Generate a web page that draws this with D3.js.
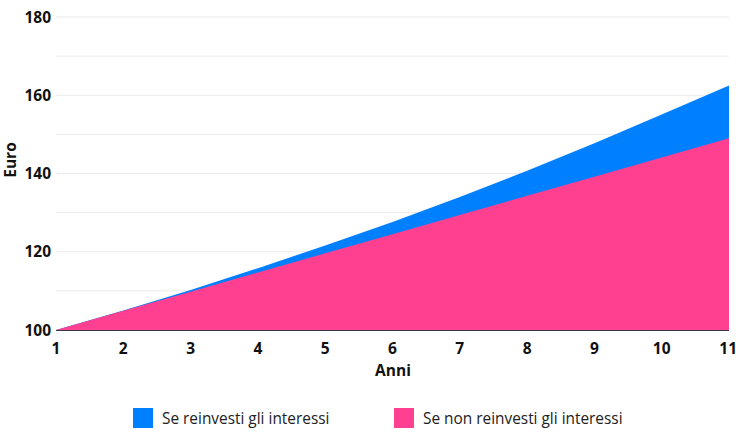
<!DOCTYPE html>
<html><head><meta charset="utf-8">
<script src="https://cdn.jsdelivr.net/npm/d3@7"></script>
<style>
html,body{margin:0;padding:0;background:#fff;}
text{font-family:"Open Sans","Lato",sans-serif;}
</style></head>
<body><svg id="c" width="736" height="446"></svg>
<script>
const years = [1,2,3,4,5,6,7,8,9,10,11];
const reinvest = [100,105.0,110.2,115.8,121.6,127.6,134.0,140.7,147.7,155.1,162.5];
const noReinvest = [100,104.9,109.8,114.7,119.6,124.5,129.4,134.3,139.2,144.1,149.0];
const yTicks = [100,120,140,160,180];
const gridVals = [110,120,130,140,150,160,170,180];
const seriesNames = ["Se reinvesti gli interessi","Se non reinvesti gli interessi"];
const colors = ["#0080ff","#ff3f8f"];

const svg = d3.select("#c");
const x = d3.scaleLinear().domain([1,11]).range([56,729]);
const y = d3.scaleLinear().domain([100,180]).range([330,17]);

svg.append("g").selectAll("line").data(gridVals).join("line")
  .attr("x1",56).attr("x2",729).attr("y1",d=>y(d)).attr("y2",d=>y(d))
  .attr("stroke","#ebebeb").attr("stroke-width",1);

const area = vals => d3.area().x((d,i)=>x(years[i])).y0(y(100)).y1(d=>y(d))(vals);
svg.append("path").attr("d",area(reinvest)).attr("fill",colors[0]);
svg.append("path").attr("d",area(noReinvest)).attr("fill",colors[1]);

svg.append("line").attr("x1",56).attr("x2",729).attr("y1",y(100)+0.5).attr("y2",y(100)+0.5)
  .attr("stroke","#3a3a4a").attr("stroke-width",1.2);

svg.append("g").selectAll("text").data(yTicks).join("text")
  .attr("x",51).attr("y",d=>y(d)).attr("dy","0.36em").attr("text-anchor","end")
  .attr("font-size",15.5).attr("font-weight",700).attr("fill","#111").text(d=>d);

svg.append("g").selectAll("text").data(years).join("text")
  .attr("x",d=>x(d)).attr("y",354).attr("text-anchor",(d,i)=>i===years.length-1?"end":"middle")
  .attr("dx",(d,i)=>i===years.length-1?"8":"0")
  .attr("font-size",15.5).attr("font-weight",700).attr("fill","#111").text(d=>d);

svg.append("text").attr("x",393).attr("y",376).attr("text-anchor","middle")
  .attr("font-size",15.5).attr("font-weight",700).attr("fill","#111").text("Anni");
svg.append("text").attr("transform","translate(16,160) rotate(-90)").attr("text-anchor","middle")
  .attr("font-size",15.5).attr("font-weight",700).attr("fill","#111").text("Euro");

const legX = [133,394];
const lg = svg.append("g").selectAll("g").data(seriesNames).join("g")
  .attr("transform",(d,i)=>`translate(${legX[i]},408)`);
lg.append("rect").attr("width",20).attr("height",20).attr("fill",(d,i)=>colors[i]);
lg.append("text").attr("x",29).attr("y",15.5).attr("font-size",15.4).attr("font-weight",500).attr("fill","#222").text(d=>d);
</script></body></html>
